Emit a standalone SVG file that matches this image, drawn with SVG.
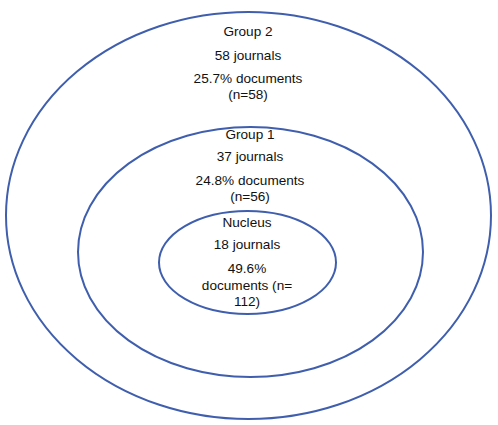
<svg xmlns="http://www.w3.org/2000/svg" width="498" height="425" viewBox="0 0 498 425">
<style>
.ring{fill:none;stroke:#3f5fae;stroke-width:2}
.t{font-family:"Liberation Sans","Open Sans",Arial,sans-serif;font-size:13.6px;fill:#111;text-anchor:middle}
</style>
<rect width="498" height="425" fill="#fff"/>
<g id="group2">
<ellipse class="ring" cx="248.5" cy="215.5" rx="242.5" ry="203.5"/>
<text class="t" x="248" y="36">Group 2</text>
<text class="t" x="248" y="60">58 journals</text>
<text class="t" x="248" y="83">25.7% documents</text>
<text class="t" x="248" y="99">(n=58)</text>
</g>
<g id="group1">
<ellipse class="ring" cx="250.5" cy="252" rx="172.5" ry="125"/>
<text class="t" x="250" y="139">Group 1</text>
<text class="t" x="250" y="161">37 journals</text>
<text class="t" x="250" y="185">24.8% documents</text>
<text class="t" x="250" y="201">(n=56)</text>
</g>
<g id="nucleus">
<ellipse class="ring" cx="247.5" cy="262.5" rx="88.5" ry="51.5"/>
<text class="t" x="247" y="227">Nucleus</text>
<text class="t" x="247" y="249">18 journals</text>
<text class="t" x="247" y="273">49.6%</text>
<text class="t" x="247" y="290">documents (n=</text>
<text class="t" x="247" y="306">112)</text>
</g>
<g id="connectors"></g>
</svg>
